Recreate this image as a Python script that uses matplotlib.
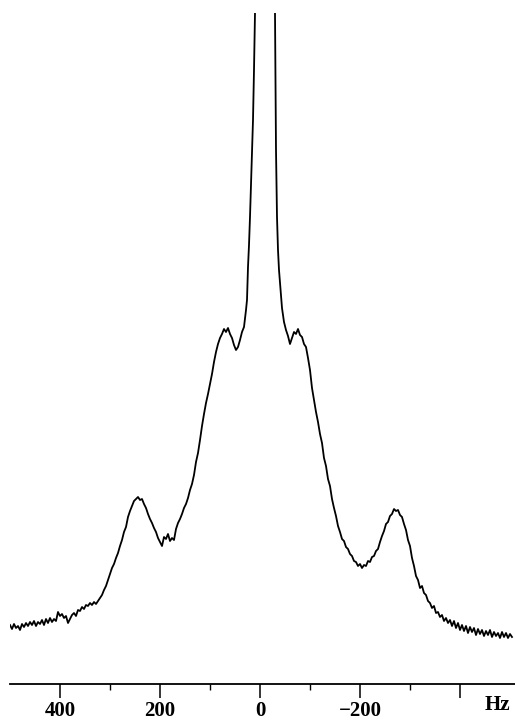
import matplotlib
matplotlib.use("Agg")
import matplotlib.pyplot as plt

# Frequency offset (Hz)
freq_hz = [500, 496, 492, 488, 484, 480, 476, 472, 468, 464, 460, 456, 452, 448, 444, 440,
           436, 432, 428, 424, 420, 416, 412, 408, 404, 400, 396, 392, 388, 384, 380, 376,
           372, 368, 364, 360, 356, 352, 348, 344, 340, 336, 332, 328, 324, 320, 316, 312,
           308, 304, 300, 296, 292, 288, 284, 280, 276, 272, 268, 264, 260, 256, 252, 248,
           244, 240, 236, 232, 228, 224, 220, 216, 212, 208, 204, 200, 196, 192, 188, 184,
           180, 176, 172, 168, 164, 160, 156, 152, 148, 144, 140, 136, 132, 128, 124, 120,
           116, 112, 108, 104, 100, 96, 92, 88, 84, 80, 76, 72, 68, 64, 60, 56, 52, 48, 44, 40,
           36, 32, 28, 26, 24, 22, 20, 18, 16, 14, 12, 10, 8, 4, -2, -10, -18, -24, -28, -30,
           -32, -34, -36, -38, -40,
           -44, -48, -52, -56, -60, -64, -68, -72, -76, -80, -84, -88, -92, -96, -100, -104,
           -108, -112, -116, -120, -124, -128, -132, -136, -140, -144, -148, -152, -156, -160,
           -164, -168, -172, -176, -180, -184, -188, -192, -196, -200, -204, -208, -212, -216,
           -220, -224, -228, -232, -236, -240, -244, -248, -252, -256, -260, -264, -268, -272,
           -276, -280, -284, -288, -292, -296, -300, -304, -308, -312, -316, -320, -324, -328,
           -332, -336, -340, -344, -348, -352, -356, -360, -364, -368, -372, -376, -380, -384,
           -388, -392, -396, -400, -404, -408, -412, -416, -420, -424, -428, -432, -436, -440,
           -444, -448, -452, -456, -460, -464, -468, -472, -476, -480, -484, -488, -492, -496,
           -500, -504]
# Signal intensity (arbitrary units) (values above 637 run off the top)
intensity = [25, 21, 26, 22, 24, 20, 26, 23, 27, 24, 28, 25, 29, 24, 28, 26,
             30, 25, 31, 27, 32, 28, 31, 29, 38, 34, 36, 32, 34, 27, 31, 35,
             37, 34, 40, 39, 43, 41, 45, 44, 47, 45, 48, 46, 49, 52, 55, 60,
             64, 70, 76, 82, 86, 92, 97, 104, 110, 118, 123, 133, 139, 144, 149, 151,
             153, 150, 151, 146, 142, 136, 131, 127, 122, 118, 112, 108, 104, 113, 111, 116,
             109, 112, 110, 121, 127, 131, 136, 142, 146, 152, 160, 166, 175, 188, 197, 210,
             224, 236, 247, 256, 266, 276, 288, 298, 306, 312, 316, 321, 318, 322, 316, 312, 305, 300, 303, 310,
             318, 323, 340, 350, 383, 405, 433, 465, 500, 530, 580, 637, 750, 950, 1000, 900, 950, 900, 720, 637,
             500, 433, 400, 380, 367,
             342, 328, 320, 314, 306, 312, 318, 316, 321, 315, 313, 306, 303, 292, 280, 262,
             250, 238, 228, 216, 207, 192, 184, 171, 164, 151, 142, 134, 124, 118,
             111, 109, 103, 101, 96, 94, 89, 88, 84, 86, 82, 85, 84, 89,
             88, 93, 94, 99, 101, 108, 114, 119, 126, 128, 134, 136, 141, 139,
             140, 135, 133, 126, 120, 110, 104, 92, 84, 74, 70, 62, 64, 57,
             55, 49, 47, 42, 44, 37, 38, 33, 35, 29, 32, 27, 30, 24,
             29, 22, 27, 20, 25, 19, 24, 17, 23, 18, 22, 15, 21, 16,
             20, 14, 19, 15, 20, 13, 18, 14, 17, 12, 18, 13, 17, 12,
             16, 13]

major_ticks = [400, 200, 0, -200, -400]
major_labels = ["400", "200", "0", "\u2212200", ""]
minor_ticks = [300, 100, -100, -300]
unit_label = "Hz"

W, H = 515, 728
fig = plt.figure(figsize=(W / 100, H / 100), dpi=100)
axis_px = 684
top_px = 13
left_px = 10
ax = fig.add_axes([left_px / W, (H - axis_px) / H, (W - left_px) / W, (axis_px - top_px) / H])

ax.plot(freq_hz, intensity, color="black", lw=1.3, solid_joinstyle="round")
ax.set_xlim(500, -510)
ax.set_ylim(-34, 637)

for s in ["top", "left", "right"]:
    ax.spines[s].set_visible(False)
ax.spines["bottom"].set_linewidth(1.3)
ax.set_yticks([])
ax.set_xticks(major_ticks)
ax.set_xticklabels(major_labels)
ax.set_xticks(minor_ticks, minor=True)
ax.tick_params(axis="x", which="major", direction="out", length=10, width=1.1, pad=2,
               labelsize=15)
ax.tick_params(axis="x", which="minor", direction="out", length=4, width=1.0)
for lab in ax.get_xticklabels():
    lab.set_fontfamily("Liberation Serif")
    lab.set_fontweight("bold")

fig.text(497 / W, 1 - 705 / H, unit_label, ha="center", va="center",
         fontsize=15, fontweight="bold", fontfamily="Liberation Serif")

fig.savefig("out.png", dpi=100)
